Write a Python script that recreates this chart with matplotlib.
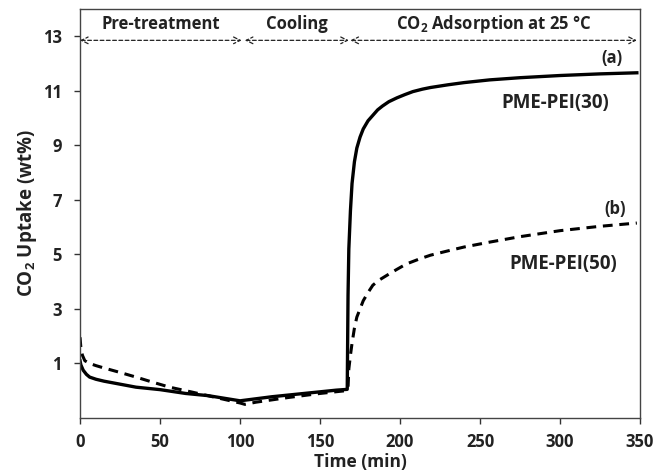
import matplotlib
matplotlib.use("Agg")
import matplotlib.pyplot as plt

plt.rcParams['font.family'] = ['Open Sans', 'DejaVu Sans']
plt.rcParams['font.weight'] = 'bold'
plt.rcParams['mathtext.fontset'] = 'custom'
plt.rcParams['mathtext.bf'] = 'Open Sans:bold'
plt.rcParams['mathtext.rm'] = 'Open Sans:bold'

# Series (a) PME-PEI(30) -- solid
t_a = [0, 0.5, 2, 4, 6, 10, 15, 25, 35, 50, 66, 80, 100, 120, 140, 160, 167,
       167.5, 168, 169, 170, 171.5, 173, 175, 177, 180, 183, 186, 189, 193, 198,
       203, 208, 214, 219, 230, 240, 256, 275, 300, 325, 348]
y_a = [1.1, 0.95, 0.75, 0.6, 0.5, 0.42, 0.35, 0.24, 0.13, 0.04, -0.1, -0.18, -0.37,
       -0.22, -0.1, 0.02, 0.05, 3.5, 5.2, 6.6, 7.6, 8.4, 8.9, 9.3, 9.6, 9.9, 10.1,
       10.3, 10.44, 10.6, 10.74, 10.86, 10.97, 11.06, 11.12, 11.22, 11.3, 11.4,
       11.48, 11.56, 11.62, 11.66]

# Series (b) PME-PEI(50) -- dashed
t_b = [0, 0.5, 1.5, 3, 6, 10, 14, 25, 35, 45, 56, 70, 85, 100, 103, 110, 130, 150,
       166, 167.5, 168, 169, 170, 171.5, 173, 175, 177, 180, 183, 187, 192, 198,
       204, 212, 219, 230, 240, 256, 275, 300, 325, 348]
y_b = [1.96, 1.6, 1.3, 1.1, 1.0, 0.92, 0.85, 0.67, 0.5, 0.32, 0.13, -0.05, -0.25,
       -0.45, -0.5, -0.42, -0.25, -0.1, 0.0, 0.1, 0.8, 1.3, 1.74, 2.3, 2.7, 3.0,
       3.3, 3.6, 3.87, 4.06, 4.24, 4.45, 4.65, 4.83, 4.97, 5.13, 5.27, 5.45, 5.65,
       5.87, 6.03, 6.15]

phase_names = ['Pre-treatment', 'Cooling', 'CO$_2$ Adsorption at 25 °C']
phase_starts = [0, 103, 169]
phase_ends = [101, 168, 348]

x_ticks = [0, 50, 100, 150, 200, 250, 300, 350]
y_ticks = [1, 3, 5, 7, 9, 11, 13]

fig = plt.figure(figsize=(6.57, 4.73), dpi=100)
ax = fig.add_axes([0.1218, 0.1163, 0.8524, 0.8647])

ax.plot(t_a, y_a, color='black', lw=2.4, solid_joinstyle='round')
ax.plot(t_b, y_b, color='black', lw=2.2, linestyle=(0, (3.2, 2.2)))

arrow_y = 12.85
for name, s, e in zip(phase_names, phase_starts, phase_ends):
    ax.annotate('', xy=(e, arrow_y), xytext=(s, arrow_y),
                arrowprops=dict(arrowstyle='<->', color='#222222', lw=0.9,
                                linestyle=(0, (3, 2)), shrinkA=0, shrinkB=0,
                                mutation_scale=12))
    ax.text((s + e) / 2, 13.45, name, ha='center', va='center',
            fontsize=12, fontweight='bold', color='#222222')

ax.text(339, 12.2, '(a)', ha='right', va='center', fontsize=12, fontweight='bold', color='#222222')
ax.text(297, 10.55, 'PME-PEI(30)', ha='center', va='center', fontsize=13.5, fontweight='bold', color='#222222')
ax.text(341, 6.65, '(b)', ha='right', va='center', fontsize=12, fontweight='bold', color='#222222')
ax.text(302, 4.65, 'PME-PEI(50)', ha='center', va='center', fontsize=13.5, fontweight='bold', color='#222222')

ax.set_xlim(0, 350)
ax.set_ylim(-1, 14)
ax.set_xticks(x_ticks)
ax.set_yticks(y_ticks)
ax.tick_params(axis='both', direction='out', length=4, width=1, labelsize=12,
               colors='#333333', labelcolor='#222222')
ax.tick_params(axis='x', pad=7)
ax.tick_params(axis='y', pad=9)
for lbl in ax.get_xticklabels() + ax.get_yticklabels():
    lbl.set_fontweight('bold')
for sp in ax.spines.values():
    sp.set_color('#444444')
    sp.set_linewidth(1.0)

ax.set_xlabel('Time (min)', fontsize=12.5, fontweight='bold', color='#222222', labelpad=1)
ax.set_ylabel('CO$_2$ Uptake (wt%)', fontsize=13.5, fontweight='bold', color='#222222', labelpad=3)

fig.savefig('out.png', dpi=100)
